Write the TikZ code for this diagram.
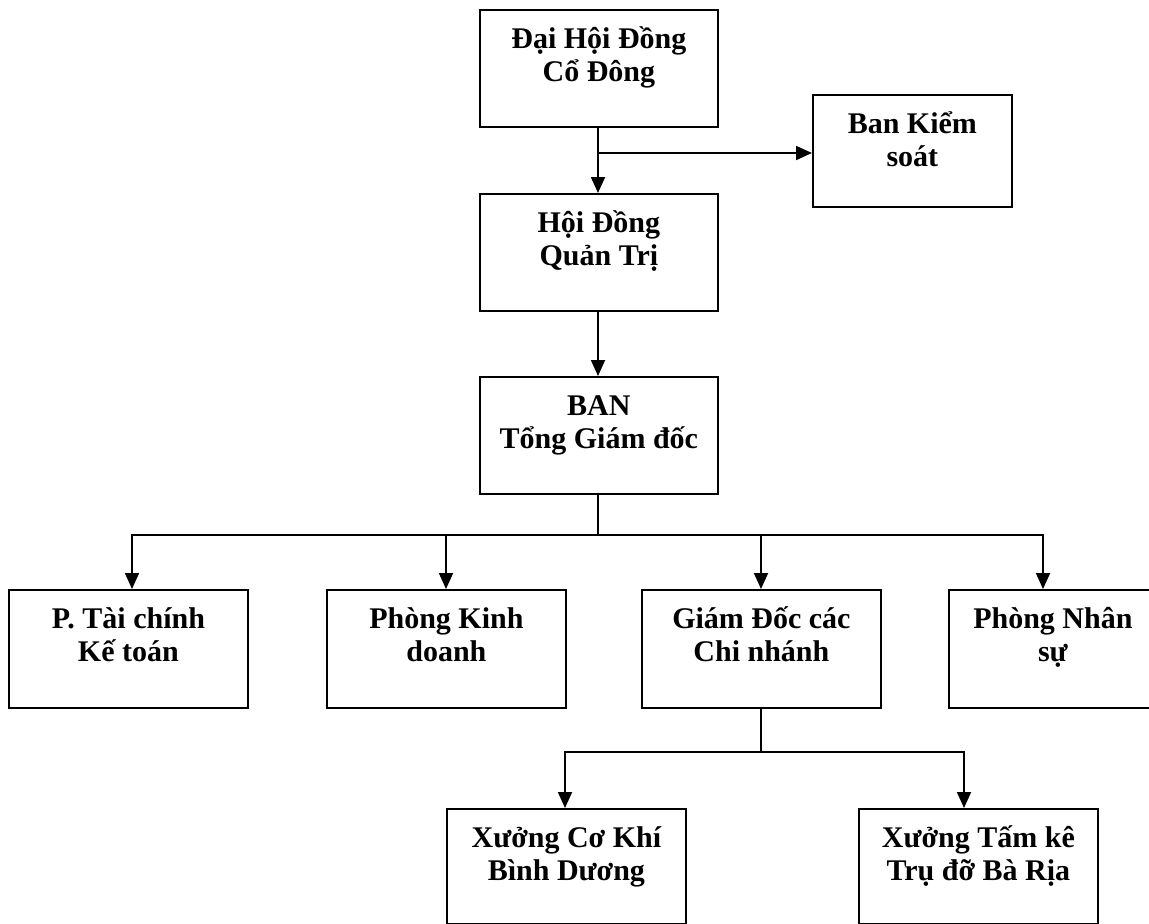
\documentclass[tikz,border=0pt]{standalone}
\usepackage{fontspec}
\setmainfont{Liberation Serif}
\usetikzlibrary{arrows.meta}
\newcommand{\boxtext}[3]{\parbox[c][#2][t]{#1}{\centering\fontsize{30}{33}\selectfont\bfseries\rule{0pt}{39pt}#3\par}}
\tikzset{
  box/.style={draw, line width=1.8pt, inner sep=0pt, anchor=north west},
  ln/.style={line width=1.8pt},
  arr/.style={line width=1.8pt, -{Triangle[length=16pt,width=14pt]}}
}
\begin{document}
\begin{tikzpicture}[x=1pt,y=-1pt]
\clip (0,0) rectangle (1149,924);
\fill[white] (0,0) rectangle (1149,924);
% boxes
\node[box] (A) at (479,9) {\boxtext{238pt}{117pt}{Đại Hội Đồng\\Cổ Đông}};
\node[box] (B) at (479,193) {\boxtext{238pt}{117pt}{Hội Đồng\\Quản Trị}};
\node[box] (C) at (479,376) {\boxtext{238pt}{117pt}{BAN\\Tổng Giám đốc}};
\node[box] (K) at (812,94) {\boxtext{199pt}{112pt}{Ban Kiểm\\soát}};
\node[box] (P1) at (8,589) {\boxtext{239pt}{118pt}{P. Tài chính\\Kế toán}};
\node[box] (P2) at (326,589) {\boxtext{239pt}{118pt}{Phòng Kinh\\doanh}};
\node[box] (P3) at (641,589) {\boxtext{239pt}{118pt}{Giám Đốc các\\Chi nhánh}};
\node[box] (P4) at (948,589) {\boxtext{208pt}{118pt}{Phòng Nhân\\sự}};
\node[box] (X1) at (446,808) {\boxtext{239pt}{115pt}{Xưởng Cơ Khí\\Bình Dương}};
\node[box] (X2) at (858,808) {\boxtext{239pt}{115pt}{Xưởng Tấm kê\\Trụ đỡ Bà Rịa}};
% top connectors
\coordinate (j1) at (598,153);
\draw[arr] (A.south -| j1) -- (B.north -| j1);
\draw[arr] (j1) -- (K.west |- j1);
\draw[arr] (B.south -| j1) -- (C.north -| j1);
% bus 1
\coordinate (bus1) at (598,535);
\coordinate (t1) at (132,535);
\coordinate (t2) at (446,535);
\coordinate (t3) at (761,535);
\coordinate (t4) at (1043,535);
\draw[ln] (C.south -| bus1) -- (bus1);
\draw[arr] (bus1) -- (t1) -- (t1 |- P1.north);
\draw[arr] (bus1) -- (t4) -- (t4 |- P4.north);
\draw[arr] (t2) -- (t2 |- P2.north);
\draw[arr] (t3) -- (t3 |- P3.north);
% bus 2
\coordinate (bus2) at (761,752);
\coordinate (u1) at (565,752);
\coordinate (u2) at (964,752);
\draw[ln] (P3.south -| bus2) -- (bus2);
\draw[arr] (bus2) -- (u1) -- (u1 |- X1.north);
\draw[arr] (bus2) -- (u2) -- (u2 |- X2.north);
\end{tikzpicture}
\end{document}
